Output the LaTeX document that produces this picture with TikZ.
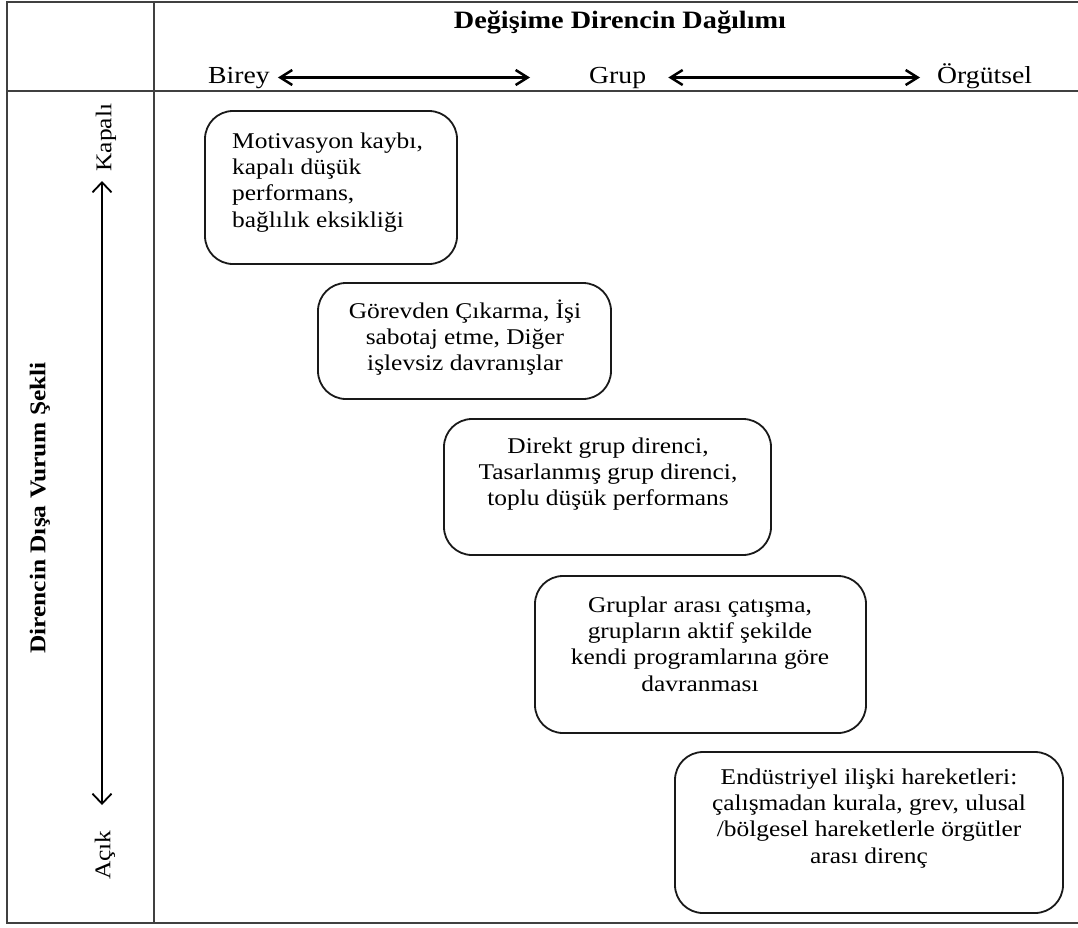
\documentclass[tikz,border=0pt]{standalone}
\usepackage{fontspec}
\setmainfont{Liberation Serif}[FakeStretch=1.13]
\usetikzlibrary{arrows.meta}

% invisible strut that fixes the height of a node's first line
\newcommand\firstline{\rule{0pt}{21pt}}

\tikzset{
  frameline/.style={draw=black!75, line width=2pt},
  itembox/.style={draw=black!90, line width=1.8pt, rounded corners=28pt,
    inner sep=0pt},
  itemtext/.style={inner sep=0pt, font=\fontsize{22.5}{26.3}\selectfont},
  axislabel/.style={inner sep=0pt, font=\fontsize{24.5}{28}\selectfont,
    text height=17pt, text depth=6pt},
  sidelabel/.style={inner sep=0pt, rotate=90, font=\fontsize{22.5}{26}\selectfont},
  hspan/.style={line width=2.5pt, {Straight Barb[length=12pt,width=15pt]}-{Straight Barb[length=12pt,width=15pt]}},
  vspan/.style={line width=1.8pt, {Straight Barb[length=10pt,width=19pt]}-{Straight Barb[length=10pt,width=19pt]}}
}

\begin{document}
\begin{tikzpicture}[x=1pt, y=-1pt]
\useasboundingbox (0,0) rectangle (1078,927);

% table frame
\draw[frameline] (1078,2) -- (7,2) -- (7,923) -- (1078,923);
\draw[frameline] (7,91) -- (1078,91);
\draw[frameline] (154,2) -- (154,923);

% header: distribution of resistance
\node[inner sep=0pt, anchor=base, font=\bfseries\fontsize{25}{30}\selectfont]
  (title) at (620,28) {Değişime Direncin Dağılımı};
\node[axislabel, anchor=base west] (birey) at (208,83) {Birey};
\node[axislabel, anchor=base west] (grup) at (589,83) {Grup};
\node[axislabel, anchor=base west] (orgut) at (937,83) {Örgütsel};
\draw[hspan, shorten <=8pt, shorten >=59pt] (birey.east) -- (grup.west);
\draw[hspan, shorten <=22pt, shorten >=17pt] (grup.east) -- (orgut.west);

% side column: form of expression
\node[sidelabel, font=\bfseries\fontsize{22.5}{26}\selectfont] (ifade) at (40,508)
  {Direncin Dışa Vurum Şekli};
\node[sidelabel] (kapali) at (106,137.5) {Kapalı};
\node[sidelabel] (acik) at (105,855) {Açık};
\coordinate (vtop) at (102,181);
\coordinate (vbot) at (102,805);
\draw[vspan] (vbot) -- (vtop);

% boxes
\node[itembox, minimum width=252pt, minimum height=153pt] (b1) at (331,187.5) {};
\node[itembox, minimum width=293pt, minimum height=116pt] (b2) at (464.5,341) {};
\node[itembox, minimum width=327pt, minimum height=136pt] (b3) at (607.5,487) {};
\node[itembox, minimum width=331pt, minimum height=157pt] (b4) at (700.5,654.5) {};
\node[itembox, minimum width=388pt, minimum height=161pt] (b5) at (869,832.5) {};

% box texts
\node[itemtext, anchor=north west, align=left] (t1) at (232,127)
  {\firstline Motivasyon kaybı,\\kapalı düşük\\performans,\\bağlılık eksikliği};
\node[itemtext, anchor=north, align=center] (t2) at (465,297)
  {\firstline Görevden Çıkarma, İşi\\sabotaj etme, Diğer\\işlevsiz davranışlar};
\node[itemtext, anchor=north, align=center] (t3) at (608,432)
  {\firstline Direkt grup direnci,\\Tasarlanmış grup direnci,\\toplu düşük performans};
\node[itemtext, anchor=north, align=center] (t4) at (700,591)
  {\firstline Gruplar arası çatışma,\\grupların aktif şekilde\\kendi programlarına göre\\davranması};
\node[itemtext, anchor=north, align=center] (t5) at (869,763)
  {\firstline Endüstriyel ilişki hareketleri:\\çalışmadan kurala, grev, ulusal\\/bölgesel hareketlerle örgütler\\arası direnç};
\end{tikzpicture}
\end{document}
